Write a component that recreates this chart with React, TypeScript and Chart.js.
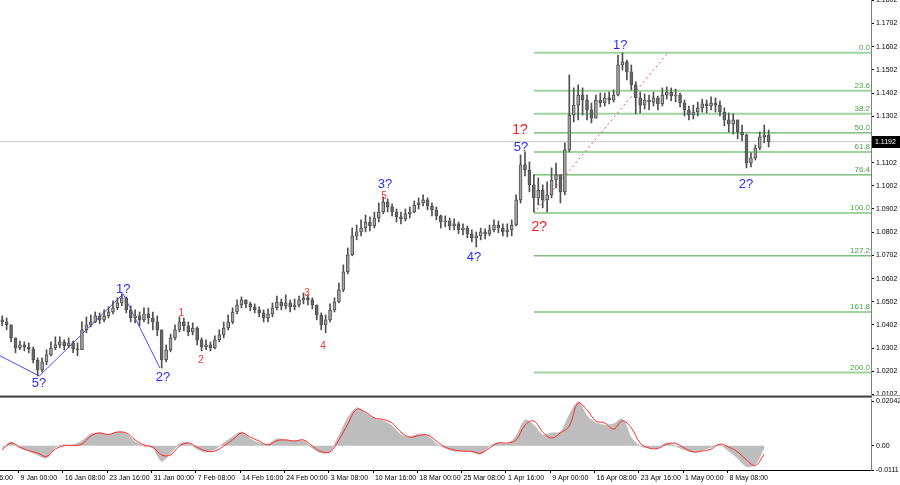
import React, { useEffect, useRef } from 'react';
import { Chart, registerables } from 'chart.js';

Chart.register(...registerables);

// ---------- price data (one candle per slot) ----------
const firstOpen = 1.0424;
const closes = [
  1.0415, 1.0402, 1.0346, 1.0303, 1.0316, 1.0307, 1.0299, 1.0251, 1.0208, 1.0243,
  1.0273, 1.0303, 1.0316, 1.0329, 1.0312, 1.0325, 1.0299, 1.0295, 1.0381, 1.0402,
  1.0415, 1.0441, 1.0424, 1.0441, 1.0458, 1.0476, 1.0497, 1.0519, 1.0467, 1.0432,
  1.0441, 1.0424, 1.0450, 1.0432, 1.0415, 1.0381, 1.0251, 1.0295, 1.0346, 1.0381,
  1.0415, 1.0398, 1.0372, 1.0389, 1.0338, 1.0307, 1.0316, 1.0303, 1.0338, 1.0359,
  1.0389, 1.0415, 1.0458, 1.0488, 1.0510, 1.0493, 1.0480, 1.0467, 1.0454, 1.0432,
  1.0450, 1.0476, 1.0501, 1.0484, 1.0497, 1.0480, 1.0488, 1.0510, 1.0519, 1.0510,
  1.0488, 1.0445, 1.0402, 1.0424, 1.0467, 1.0501, 1.0553, 1.0631, 1.0704, 1.0786,
  1.0803, 1.0820, 1.0846, 1.0829, 1.0863, 1.0889, 1.0932, 1.0911, 1.0889, 1.0868,
  1.0859, 1.0881, 1.0889, 1.0919, 1.0928, 1.0941, 1.0915, 1.0898, 1.0872, 1.0846,
  1.0850, 1.0829, 1.0838, 1.0812, 1.0820, 1.0795, 1.0777, 1.0786, 1.0803, 1.0795,
  1.0812, 1.0833, 1.0820, 1.0803, 1.0812, 1.0833, 1.0941, 1.1092, 1.1070, 1.1006,
  1.0950, 1.0984, 1.0941, 1.0963, 1.1027, 1.1049, 1.0976, 1.1157, 1.1307, 1.1350,
  1.1393, 1.1372, 1.1329, 1.1294, 1.1372, 1.1359, 1.1381, 1.1372, 1.1393, 1.1523,
  1.1536, 1.1493, 1.1437, 1.1381, 1.1350, 1.1372, 1.1363, 1.1381, 1.1355, 1.1393,
  1.1406, 1.1389, 1.1393, 1.1359, 1.1329, 1.1307, 1.1320, 1.1338, 1.1355, 1.1346,
  1.1359, 1.1350, 1.1320, 1.1286, 1.1269, 1.1286, 1.1234, 1.1221, 1.1100, 1.1122,
  1.1165, 1.1213, 1.1221, 1.1192,
];
const highs = [
  1.0441, 1.0432, 1.0394, 1.0338, 1.0333, 1.0329, 1.0325, 1.0307, 1.0260, 1.0260,
  1.0295, 1.0329, 1.0351, 1.0351, 1.0338, 1.0346, 1.0333, 1.0325, 1.0415, 1.0437,
  1.0445, 1.0458, 1.0454, 1.0467, 1.0480, 1.0506, 1.0519, 1.0536, 1.0523, 1.0484,
  1.0467, 1.0458, 1.0476, 1.0476, 1.0458, 1.0441, 1.0359, 1.0316, 1.0363, 1.0402,
  1.0437, 1.0432, 1.0415, 1.0411, 1.0394, 1.0346, 1.0338, 1.0329, 1.0355, 1.0381,
  1.0415, 1.0445, 1.0476, 1.0510, 1.0523, 1.0510, 1.0501, 1.0493, 1.0480, 1.0467,
  1.0471, 1.0497, 1.0527, 1.0514, 1.0532, 1.0510, 1.0514, 1.0527, 1.0540, 1.0532,
  1.0519, 1.0488, 1.0454, 1.0445, 1.0493, 1.0519, 1.0583, 1.0661, 1.0734, 1.0820,
  1.0833, 1.0855, 1.0876, 1.0868, 1.0889, 1.0928, 1.0954, 1.0946, 1.0924, 1.0902,
  1.0889, 1.0902, 1.0911, 1.0937, 1.0950, 1.0963, 1.0950, 1.0928, 1.0911, 1.0876,
  1.0872, 1.0863, 1.0859, 1.0846, 1.0838, 1.0829, 1.0812, 1.0803, 1.0820, 1.0816,
  1.0833, 1.0855, 1.0850, 1.0838, 1.0838, 1.0855, 1.0963, 1.1135, 1.1148, 1.1105,
  1.1049, 1.1036, 1.1006, 1.1019, 1.1079, 1.1100, 1.1049, 1.1187, 1.1480, 1.1424,
  1.1437, 1.1424, 1.1393, 1.1359, 1.1393, 1.1402, 1.1402, 1.1406, 1.1415, 1.1566,
  1.1575, 1.1544, 1.1523, 1.1450, 1.1406, 1.1398, 1.1393, 1.1406, 1.1389, 1.1424,
  1.1428, 1.1424, 1.1419, 1.1402, 1.1372, 1.1346, 1.1350, 1.1363, 1.1376, 1.1372,
  1.1385, 1.1381, 1.1368, 1.1338, 1.1316, 1.1312, 1.1286, 1.1264, 1.1225, 1.1144,
  1.1178, 1.1234, 1.1264, 1.1243,
];
const lows = [
  1.0398, 1.0381, 1.0329, 1.0282, 1.0295, 1.0290, 1.0282, 1.0238, 1.0182, 1.0200,
  1.0230, 1.0269, 1.0295, 1.0303, 1.0295, 1.0303, 1.0282, 1.0269, 1.0303, 1.0368,
  1.0394, 1.0411, 1.0407, 1.0415, 1.0432, 1.0450, 1.0467, 1.0484, 1.0454, 1.0415,
  1.0411, 1.0398, 1.0415, 1.0407, 1.0381, 1.0355, 1.0217, 1.0243, 1.0286, 1.0338,
  1.0372, 1.0376, 1.0355, 1.0359, 1.0316, 1.0290, 1.0295, 1.0290, 1.0299, 1.0329,
  1.0346, 1.0381, 1.0407, 1.0450, 1.0476, 1.0476, 1.0463, 1.0454, 1.0437, 1.0415,
  1.0415, 1.0437, 1.0467, 1.0467, 1.0471, 1.0458, 1.0467, 1.0480, 1.0493, 1.0488,
  1.0471, 1.0424, 1.0381, 1.0368, 1.0415, 1.0458, 1.0497, 1.0545, 1.0622, 1.0700,
  1.0769, 1.0786, 1.0803, 1.0807, 1.0820, 1.0846, 1.0881, 1.0889, 1.0872, 1.0846,
  1.0838, 1.0850, 1.0863, 1.0885, 1.0902, 1.0915, 1.0898, 1.0872, 1.0855, 1.0820,
  1.0825, 1.0812, 1.0812, 1.0795, 1.0790, 1.0777, 1.0760, 1.0738, 1.0769, 1.0773,
  1.0786, 1.0803, 1.0799, 1.0786, 1.0782, 1.0786, 1.0829, 1.0928, 1.1045, 1.0976,
  1.0889, 1.0919, 1.0907, 1.0889, 1.0950, 1.0993, 1.0928, 1.0963, 1.1148, 1.1277,
  1.1286, 1.1307, 1.1286, 1.1273, 1.1294, 1.1342, 1.1346, 1.1355, 1.1363, 1.1389,
  1.1501, 1.1458, 1.1415, 1.1312, 1.1316, 1.1333, 1.1329, 1.1346, 1.1329, 1.1346,
  1.1376, 1.1368, 1.1363, 1.1342, 1.1303, 1.1286, 1.1290, 1.1303, 1.1320, 1.1316,
  1.1329, 1.1320, 1.1303, 1.1260, 1.1234, 1.1225, 1.1204, 1.1195, 1.1079, 1.1083,
  1.1113, 1.1157, 1.1187, 1.1169,
];

// ---------- oscillator (sampled every 2nd candle) ----------
const oscHistogram = [
  -0.0015, 0.0017, -0.0010, -0.0024, -0.0042, -0.0056, -0.0006, 0.0004, 0.0004, 0.0022,
  0.0054, 0.0059, 0.0050, 0.0063, 0.0054, 0.0017, -0.0001, -0.0010, -0.0070, -0.0033,
  0.0008, 0.0013, -0.0015, -0.0028, -0.0015, 0.0013, 0.0040, 0.0063, 0.0031, 0.0013,
  0.0008, 0.0031, 0.0027, 0.0022, 0.0022, -0.0010, -0.0033, -0.0024, 0.0045, 0.0128,
  0.0174, 0.0151, 0.0123, 0.0114, 0.0091, 0.0050, 0.0040, 0.0054, 0.0045, 0.0008,
  -0.0010, -0.0024, -0.0024, -0.0028, -0.0038, -0.0001, 0.0013, 0.0008, 0.0045, 0.0118,
  0.0095, 0.0050, 0.0059, 0.0063, 0.0141, 0.0201, 0.0137, 0.0105, 0.0095, 0.0100,
  0.0123, 0.0036, -0.0001, -0.0010, -0.0010, 0.0013, -0.0001, -0.0019, -0.0028, -0.0019,
  -0.0006, 0.0004, -0.0024, -0.0056, -0.0095, -0.0085, -0.0006,
];
const oscSignal = [
  -0.0019, 0.0013, -0.0006, -0.0022, -0.0033, -0.0049, -0.0015, 0.0001, 0.0001, 0.0008,
  0.0045, 0.0059, 0.0052, 0.0063, 0.0059, 0.0027, 0.0004, -0.0006, -0.0042, -0.0042,
  -0.0001, 0.0013, -0.0006, -0.0024, -0.0024, -0.0001, 0.0027, 0.0059, 0.0040, 0.0022,
  0.0004, 0.0024, 0.0027, 0.0022, 0.0027, -0.0001, -0.0026, -0.0028, 0.0027, 0.0100,
  0.0167, 0.0155, 0.0128, 0.0121, 0.0105, 0.0063, 0.0040, 0.0047, 0.0050, 0.0022,
  -0.0006, -0.0019, -0.0024, -0.0026, -0.0033, -0.0010, 0.0013, 0.0013, 0.0027, 0.0095,
  0.0114, 0.0063, 0.0036, 0.0059, 0.0091, 0.0196, 0.0164, 0.0114, 0.0105, 0.0077,
  0.0114, 0.0082, 0.0013, -0.0010, -0.0012, 0.0008, 0.0011, -0.0010, -0.0028, -0.0024,
  -0.0015, 0.0008, -0.0006, -0.0028, -0.0065, -0.0090, -0.0038,
];

// ---------- axes ----------
const priceTicks = [
  1.0102, 1.0202, 1.0302, 1.0402, 1.0502, 1.0602, 1.0702, 1.0802, 1.0902,
  1.1002, 1.1102, 1.1202, 1.1302, 1.1402, 1.1502, 1.1602, 1.1702, 1.1802,
];
const oscTickValues = [0.02042, 0, -0.0111];
const oscTickLabels = ['0.02042', '0.00', '-0.0111'];
const timeTickIndex = [
  -6.3, 3.7, 13.7, 23.7, 33.7, 43.7, 53.7, 63.7, 73.7, 83.7, 93.7,
  103.7, 113.7, 123.7, 133.7, 143.7, 153.7, 163.7,
];
const timeTickLabels = [
  '2 Jan 16:00', '9 Jan 00:00', '16 Jan 08:00', '23 Jan 16:00', '31 Jan 00:00',
  '7 Feb 08:00', '14 Feb 16:00', '24 Feb 00:00', '3 Mar 08:00', '10 Mar 16:00',
  '18 Mar 00:00', '25 Mar 08:00', '1 Apr 16:00', '9 Apr 00:00', '16 Apr 08:00',
  '23 Apr 16:00', '1 May 00:00', '8 May 08:00',
];
const currentPrice = 1.1192;

// ---------- Fibonacci grid ----------
const fibLevels = [0.0, 23.6, 38.2, 50.0, 61.8, 76.4, 100.0, 127.2, 161.8, 200.0];
const fibPrices = [1.1576, 1.1412, 1.1313, 1.1230, 1.1148, 1.1049, 1.0885, 1.0700, 1.0458, 1.0197];
const fibStartIndex = 120;
const fibBaseX = [120, 150.3];
const fibBasePrice = [1.0885, 1.1576];

// ---------- wave markup ----------
const waveLineX = [-0.5, 8.37, 27.3, 35.6];
const waveLinePrice = [1.0269, 1.0182, 1.0536, 1.0216];
const waveText = ['5?', '1?', '2?', '1', '2', '3', '4', '3?', '5', '4?', '2?', '1?', '5?', '1?', '2?'];
const waveX = [8.3, 27.3, 36.3, 40.4, 44.9, 68.8, 72.4, 86.4, 86.2, 106.5, 121.2, 116.9, 117.1, 139.5, 167.9];
const wavePrice = [1.0148, 1.0557, 1.0174, 1.0454, 1.0251, 1.0540, 1.0312, 1.1006, 1.0958, 1.0691, 1.0825, 1.1243, 1.1169, 1.1609, 1.1006];
const waveKind = ['b', 'b', 'b', 'r', 'r', 'r', 'r', 'b', 'r', 'b', 'R', 'R', 'b', 'b', 'b'];

// ---------- layout / style constants ----------
const X_MIN = -0.5;
const X_MAX = 196.1;
const AXIS_W = 29;
const FONT = '"Liberation Sans", Arial, sans-serif';
const kindStyle: Record<string, { color: string; size: number }> = {
  b: { color: '#2a2aff', size: 13 },
  r: { color: '#ff3030', size: 10 },
  R: { color: '#ff2020', size: 14 },
};
const fibBold = [true, true, true, false, true, false, true, false, true, true];

export default function App() {
  const mainRef = useRef<HTMLCanvasElement | null>(null);
  const oscRef = useRef<HTMLCanvasElement | null>(null);

  useEffect(() => {
    const idx = closes.map((_, i) => i);
    const opens = closes.map((_, i) => (i === 0 ? firstOpen : closes[i - 1]));

    const wickData = idx.map((i) => ({
      x: i,
      y: [Math.min(lows[i], opens[i], closes[i]), Math.max(highs[i], opens[i], closes[i])],
    }));
    const bodyData = idx.map((i) => ({ x: i, y: [opens[i], closes[i]] }));
    const bodyColors = idx.map((i) => (closes[i] >= opens[i] ? '#a6a6a6' : '#6a6a6a'));

    const hline = (p: number) => [
      { x: X_MIN, y: p },
      { x: X_MAX, y: p },
    ];

    const fibDatasets = fibPrices.map((p, k) => ({
      type: 'line' as const,
      data: [
        { x: fibStartIndex, y: p },
        { x: X_MAX, y: p },
      ],
      borderColor: fibBold[k] ? '#9fd39f' : '#3f9f3f',
      borderWidth: fibBold[k] ? 2 : 1,
      pointRadius: 0,
      fill: false,
      order: 6,
    }));

    const overlay = {
      id: 'overlay',
      afterDatasetsDraw(chart: any) {
        const { ctx, chartArea, scales } = chart;
        const xs = scales.x;
        const ys = scales.y;
        ctx.save();
        ctx.beginPath();
        ctx.rect(chartArea.left, chartArea.top, chartArea.right - chartArea.left, chartArea.bottom - chartArea.top);
        ctx.clip();
        // fib labels
        ctx.font = `8px ${FONT}`;
        ctx.fillStyle = '#4aa34a';
        ctx.textAlign = 'right';
        ctx.textBaseline = 'bottom';
        fibLevels.forEach((lv, k) => {
          const y = ys.getPixelForValue(fibPrices[k]);
          ctx.fillText(lv.toFixed(1), chartArea.right - 1, y - 1);
        });
        // wave labels
        ctx.textAlign = 'center';
        ctx.textBaseline = 'middle';
        waveText.forEach((t, k) => {
          const st = kindStyle[waveKind[k]];
          ctx.font = `${st.size}px ${FONT}`;
          ctx.fillStyle = st.color;
          ctx.fillText(t, xs.getPixelForValue(waveX[k]), ys.getPixelForValue(wavePrice[k]));
        });
        ctx.restore();
      },
      afterDraw(chart: any) {
        const { ctx, chartArea, scales } = chart;
        const ys = scales.y;
        ctx.save();
        // current price box
        const y = Math.round(ys.getPixelForValue(currentPrice));
        ctx.fillStyle = '#000';
        ctx.fillRect(chartArea.right + 1, y - 6, chart.width - chartArea.right - 1, 12);
        ctx.fillStyle = '#fff';
        ctx.font = `7px ${FONT}`;
        ctx.textAlign = 'left';
        ctx.textBaseline = 'middle';
        ctx.fillText(currentPrice.toFixed(4), chartArea.right + 4, y + 0.5);
        // panel separator
        ctx.fillStyle = '#a0a0a0';
        ctx.fillRect(0, chartArea.bottom, chart.width, 1);
        ctx.fillStyle = '#444';
        ctx.fillRect(0, chartArea.bottom + 1, chartArea.right + 1, 1);
        ctx.restore();
      },
    };

    const main = new Chart(mainRef.current as HTMLCanvasElement, {
      type: 'bar',
      data: {
        datasets: [
          {
            type: 'bar',
            data: bodyData as any,
            backgroundColor: bodyColors,
            borderColor: '#505050',
            borderWidth: 1,
            borderSkipped: false,
            barThickness: 3,
            minBarLength: 1,
            grouped: false,
            order: 0,
          } as any,
          {
            type: 'bar',
            data: wickData as any,
            backgroundColor: '#505050',
            borderWidth: 0,
            barThickness: 1,
            grouped: false,
            order: 1,
          } as any,
          {
            type: 'line',
            data: waveLineX.map((x, k) => ({ x, y: waveLinePrice[k] })),
            borderColor: '#4b4bff',
            borderWidth: 1,
            pointRadius: 0,
            fill: false,
            order: 2,
          } as any,
          {
            type: 'line',
            data: fibBaseX.map((x, k) => ({ x, y: fibBasePrice[k] })),
            borderColor: '#ff4d4d',
            borderWidth: 1,
            borderDash: [2, 3],
            pointRadius: 0,
            fill: false,
            order: 3,
          } as any,
          {
            type: 'line',
            data: hline(currentPrice),
            borderColor: '#c8c8c8',
            borderWidth: 1,
            pointRadius: 0,
            fill: false,
            order: 7,
          } as any,
          ...(fibDatasets as any[]),
        ],
      },
      options: {
        animation: false,
        responsive: false,
        maintainAspectRatio: false,
        events: [],
        layout: { padding: { top: 0, bottom: 2, left: 0, right: 0 } },
        plugins: { legend: { display: false }, tooltip: { enabled: false } },
        scales: {
          x: {
            type: 'linear',
            min: X_MIN,
            max: X_MAX,
            offset: false,
            display: false,
          },
          y: {
            type: 'linear',
            position: 'right',
            min: 1.01,
            max: 1.1803,
            afterBuildTicks: (s: any) => {
              s.ticks = priceTicks.map((v) => ({ value: v }));
            },
            afterFit: (s: any) => {
              s.width = AXIS_W;
              s.paddingTop = 0;
              s.paddingBottom = 0;
            },
            ticks: {
              callback: (v: any) => Number(v).toFixed(4),
              font: { family: FONT, size: 7 },
              color: '#000',
              padding: 2,
              autoSkip: false,
            },
            grid: { display: true, drawOnChartArea: false, tickLength: 3, color: '#000' },
            border: { display: true, color: '#808080', width: 1 },
          },
        },
      },
      plugins: [overlay],
    } as any);

    const oscOverlay = {
      id: 'oscOverlay',
      afterDraw(chart: any) {
        const { ctx, chartArea } = chart;
        ctx.save();
        ctx.fillStyle = '#8a8a8a';
        ctx.fillRect(0, 0, chartArea.right + 1, 1);
        ctx.restore();
      },
    };

    const oscIdx = oscHistogram.map((_, k) => 2 * k);
    const osc = new Chart(oscRef.current as HTMLCanvasElement, {
      type: 'line',
      data: {
        datasets: [
          {
            data: oscIdx.map((x, k) => ({ x, y: oscSignal[k] })),
            borderColor: '#ff2a2a',
            borderWidth: 1,
            pointRadius: 0,
            fill: false,
            tension: 0.4,
            order: 0,
          },
          {
            data: oscIdx.map((x, k) => ({ x, y: oscHistogram[k] })),
            borderColor: '#bdbdbd',
            backgroundColor: '#bdbdbd',
            borderWidth: 1,
            pointRadius: 0,
            fill: 'origin',
            tension: 0.3,
            order: 1,
          },
        ],
      },
      options: {
        animation: false,
        responsive: false,
        maintainAspectRatio: false,
        events: [],
        layout: { padding: { top: 2, bottom: 0, left: 0, right: 0 } },
        plugins: { legend: { display: false }, tooltip: { enabled: false } },
        scales: {
          x: {
            type: 'linear',
            min: X_MIN,
            max: X_MAX,
            offset: false,
            afterBuildTicks: (s: any) => {
              s.ticks = timeTickIndex.map((v) => ({ value: v }));
            },
            afterFit: (s: any) => {
              s.height = 15;
              s.paddingLeft = 0;
              s.paddingRight = 0;
            },
            ticks: {
              callback: (_v: any, i: number) => ' ' + timeTickLabels[i],
              font: { family: FONT, size: 7 },
              color: '#000',
              align: 'start',
              maxRotation: 0,
              minRotation: 0,
              autoSkip: false,
              padding: 1,
            },
            grid: { display: true, drawOnChartArea: false, tickLength: 3, color: '#000' },
            border: { display: true, color: '#000', width: 1 },
          },
          y: {
            type: 'linear',
            position: 'right',
            min: -0.0111,
            max: 0.0215,
            afterBuildTicks: (s: any) => {
              s.ticks = oscTickValues.map((v) => ({ value: v }));
            },
            afterFit: (s: any) => {
              s.width = AXIS_W;
              s.paddingTop = 0;
              s.paddingBottom = 0;
            },
            ticks: {
              callback: (_v: any, i: number) => oscTickLabels[i],
              font: { family: FONT, size: 7 },
              color: '#000',
              padding: 2,
              autoSkip: false,
            },
            grid: { display: true, drawOnChartArea: false, tickLength: 3, color: '#000' },
            border: { display: true, color: '#808080', width: 1 },
          },
        },
      },
      plugins: [oscOverlay],
    } as any);

    return () => {
      main.destroy();
      osc.destroy();
    };
  }, []);

  return (
    <div
      style={{
        position: 'fixed',
        left: 0,
        top: 0,
        width: 900,
        height: 485,
        background: '#fff',
        overflow: 'hidden',
      }}
    >
      <canvas
        ref={mainRef}
        width={900}
        height={397}
        style={{ position: 'absolute', left: 0, top: 0, width: 900, height: 397 }}
      />
      <canvas
        ref={oscRef}
        width={900}
        height={88}
        style={{ position: 'absolute', left: 0, top: 397, width: 900, height: 88 }}
      />
    </div>
  );
}
